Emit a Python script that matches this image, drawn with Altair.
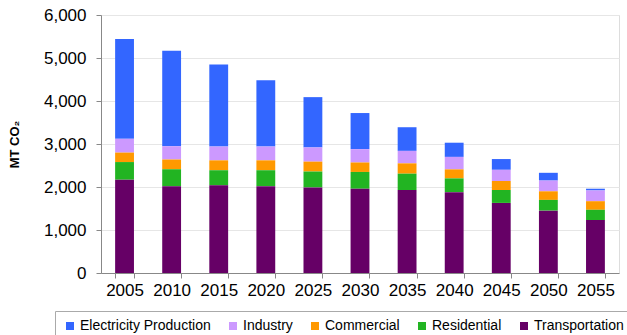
import altair as alt
import pandas as pd

years = ["2005", "2010", "2015", "2020", "2025", "2030", "2035", "2040", "2045", "2050", "2055"]
transportation = [2170, 2020, 2040, 2020, 1990, 1960, 1930, 1880, 1630, 1450, 1230]
residential = [410, 390, 350, 370, 370, 390, 380, 320, 300, 250, 240]
commercial = [220, 230, 230, 230, 230, 220, 240, 210, 210, 200, 200]
industry = [320, 310, 320, 320, 330, 310, 290, 290, 260, 250, 250]
electricity = [2320, 2220, 1910, 1540, 1170, 840, 550, 330, 250, 180, 40]

sectors = ["Electricity Production", "Industry", "Commercial", "Residential", "Transportation"]
colors = ["#3366FF", "#CC99FF", "#FF9900", "#22B422", "#660066"]
series = {
    "Electricity Production": electricity,
    "Industry": industry,
    "Commercial": commercial,
    "Residential": residential,
    "Transportation": transportation,
}
stack_rank = {"Transportation": 0, "Residential": 1, "Commercial": 2, "Industry": 3, "Electricity Production": 4}

rows = []
for s in sectors:
    for y, v in zip(years, series[s]):
        rows.append({"Year": y, "Sector": s, "Value": v, "rank": stack_rank[s]})
df = pd.DataFrame(rows)

font = "Liberation Sans"

chart = alt.Chart(df).mark_bar().encode(
    x=alt.X("Year:N", sort=years,
            scale=alt.Scale(paddingInner=0.6, paddingOuter=0.3),
            axis=alt.Axis(title=None, labelAngle=0, labelFontSize=17, labelFont=font,
                          labelColor="#000000", tickBand="extent", tickSize=5,
                          tickColor="#888888", domainColor="#888888", labelPadding=4,
                          grid=False)),
    y=alt.Y("Value:Q", stack="zero",
            scale=alt.Scale(domain=[0, 6000]),
            axis=alt.Axis(title="MT CO₂", values=[0, 1000, 2000, 3000, 4000, 5000, 6000],
                          format=",d", labelFontSize=17, labelFont=font, labelColor="#000000",
                          tickSize=5, tickColor="#888888", domainColor="#888888",
                          gridColor="#E6E6E6", labelPadding=10,
                          titleFont=font, titleFontSize=13, titleFontWeight="bold",
                          titleColor="#000000", titleX=-87, titleY=129, titleAngle=270,
                          titleAlign="center", titleBaseline="middle")),
    color=alt.Color("Sector:N",
                    scale=alt.Scale(domain=sectors, range=colors),
                    legend=alt.Legend(title=None, orient="none", legendX=-46, legendY=296,
                                      direction="horizontal", columns=5,
                                      symbolType="square", symbolSize=64, symbolStrokeWidth=0,
                                      labelFont=font, labelFontSize=14, labelColor="#000000",
                                      labelOffset=3, columnPadding=15, padding=8,
                                      strokeColor="#AAAAAA", fillColor="#FFFFFF")),
    order=alt.Order("rank:Q", sort="ascending"),
).properties(
    width=518, height=258,
    autosize=alt.AutoSizeParams(type="none"),
    padding={"left": 101, "top": 15, "right": 8, "bottom": 62},
).configure_view(
    stroke="#888888"
).configure(background="#FFFFFF")

chart.save("out.html", embed_options={"renderer": "svg", "actions": False})
